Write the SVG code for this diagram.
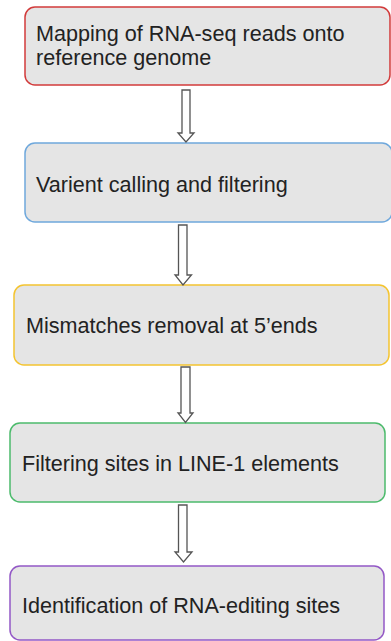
<svg xmlns="http://www.w3.org/2000/svg" width="391" height="641" viewBox="0 0 391 641">
<style>
.box{fill:#e5e5e5;stroke-width:1.5}
.t{font-family:"Liberation Sans",Arial,sans-serif;font-size:21.6px;fill:#222}
.arr{fill:#fff;stroke:#555;stroke-width:1.3;stroke-linejoin:miter}
</style>
<rect width="391" height="641" fill="#fff"/>
<g id="n1"><rect class="box" x="25" y="7" width="365" height="78" rx="10" stroke="#d23b3b"/>
<text class="t" x="36" y="41">Mapping of RNA-seq reads onto</text>
<text class="t" x="36" y="65">reference genome</text></g>
<g id="n2"><rect class="box" x="25" y="143" width="367" height="79" rx="10" stroke="#6fa8dc"/>
<text class="t" x="36" y="192">Varient calling and filtering</text></g>
<g id="n3"><rect class="box" x="14" y="285" width="375" height="80" rx="10" stroke="#f4c430"/>
<text class="t" x="26" y="333">Mismatches removal at 5’ends</text></g>
<g id="n4"><rect class="box" x="10" y="423" width="375" height="79" rx="10" stroke="#4cbb6c"/>
<text class="t" x="22" y="471">Filtering sites in LINE-1 elements</text></g>
<g id="n5"><rect class="box" x="10" y="566" width="374" height="74" rx="10" stroke="#9358c6"/>
<text class="t" x="22" y="613">Identification of RNA-editing sites</text></g>
<g id="connectors">
<polygon class="arr" points="182,90 190,90 190,133 194,133 186,142 178,133 182,133"/>
<polygon class="arr" points="178.5,225 187,225 187,275 191.5,275 183,285 175,275 178.5,275"/>
<polygon class="arr" points="181,367 190,367 190,413 193,413 185.5,422.5 178,413 181,413"/>
<polygon class="arr" points="178.5,505 187,505 187,552 192,552 183.5,562 175,552 178.5,552"/>
</g>
</svg>
